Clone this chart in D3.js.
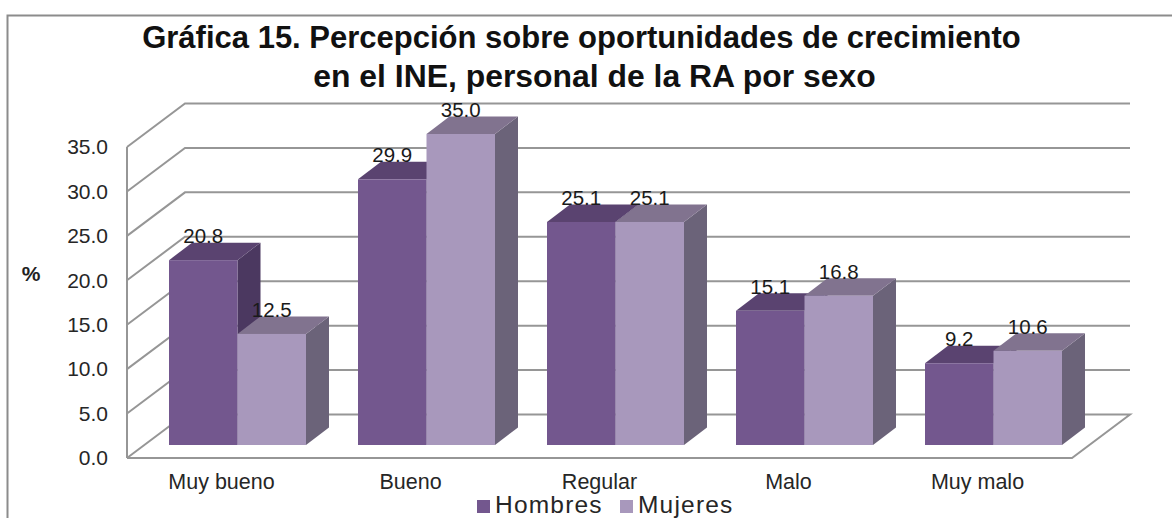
<!DOCTYPE html>
<html><head><meta charset="utf-8">
<script src="https://cdn.jsdelivr.net/npm/d3@7"></script>
<style>html,body{margin:0;padding:0;background:#fff;overflow:hidden}svg{display:block}text{font-family:"Liberation Sans",Arial,sans-serif}</style>
</head><body><svg id="c" width="1172" height="518"></svg>
<script>
const categories = ["Muy bueno","Bueno","Regular","Malo","Muy malo"];
const hombres = [20.8,29.9,25.1,15.1,9.2];
const mujeres = [12.5,35.0,25.1,16.8,10.6];
const seriesNames = ["Hombres","Mujeres"];
const yTicks = [0,5,10,15,20,25,30,35];
const titleLines = ["Gráfica 15. Percepción sobre oportunidades de crecimiento","en el INE, personal de la RA por sexo"];

const svg = d3.select("#c");
const plot = {left:127,right:1072,top:147,bottom:458};
const wall = {dx:58,dy:43.5};
const barDepth = {dx:23,dy:17.5,front:13};
const y = d3.scaleLinear().domain([0,35]).range([plot.bottom,plot.top]);
const x = d3.scaleBand().domain(categories).range([plot.left,plot.right]);
const barOffset = 42, barW = 68.5;
const gridC = "#969696";
const line = d3.line();

svg.append("path").attr("d",line([[7.5,518],[7.5,15.5],[1172,15.5]])).attr("fill","none").attr("stroke","#8c8c8c").attr("stroke-width",2);

yTicks.forEach(t=>{
  const p=[[plot.left,y(t)],[plot.left+wall.dx,y(t)-wall.dy],[plot.right+wall.dx,y(t)-wall.dy]];
  if(t===0) p.push([plot.right,y(t)],[plot.left,y(t)]);
  svg.append("path").attr("d",line(p)).attr("fill","none").attr("stroke",gridC).attr("stroke-width",2);
});
svg.append("line").attr("x1",plot.left).attr("x2",plot.left).attr("y1",y(35)).attr("y2",y(0)).attr("stroke",gridC).attr("stroke-width",2);

const ax = svg.append("g").attr("transform",`translate(108,0)`)
  .call(d3.axisLeft(y).tickValues(yTicks).tickSize(0).tickFormat(d3.format(".1f")));
ax.select(".domain").remove();
ax.selectAll("text").attr("font-size",21).attr("fill","#262626").attr("x",0).attr("text-anchor","end").attr("font-family","Liberation Sans");

const ax2 = svg.append("g").attr("transform",`translate(0,469)`)
  .call(d3.axisBottom(x).tickSize(0));
ax2.select(".domain").remove();
ax2.selectAll("text").attr("font-size",21.5).attr("fill","#262626").attr("y",0).attr("dy","0.95em").attr("font-family","Liberation Sans");

const barBase = plot.bottom-barDepth.front;
const hPerUnit = y(0)-y(1);
const styles = [{f:"#73578e",t:"#5a4370",s:"#4b3860"},{f:"#a898bc",t:"#81738f",s:"#6b6379"}];
const group = (i,s)=> x(categories[i]) + barOffset + s*barW;
const labels=[];
categories.forEach((c,i)=>{
  [hombres[i],mujeres[i]].forEach((v,s)=>{
    const c0=styles[s], X=group(i,s), top=barBase-v*hPerUnit, d=barDepth;
    const g=svg.append("g");
    g.append("path").attr("fill",c0.s).attr("d",line([[X+barW,top],[X+barW+d.dx,top-d.dy],[X+barW+d.dx,barBase-d.dy],[X+barW,barBase]])+"Z");
    g.append("path").attr("fill",c0.t).attr("d",line([[X,top],[X+d.dx,top-d.dy],[X+barW+d.dx,top-d.dy],[X+barW,top]])+"Z");
    g.append("rect").attr("x",X).attr("y",top).attr("width",barW).attr("height",barBase-top).attr("fill",c0.f);
    labels.push({v,X:X+barW/2,Y:top-17});
  });
});
labels.forEach(l=>{
  svg.append("text").attr("x",l.X).attr("y",l.Y).attr("text-anchor","middle").attr("font-size",20.5).attr("fill","#1a1a1a").text(l.v.toFixed(1));
});

const titleX=[581.5,594.5], titleY=[48,87], titleSize=[31,31.9];
titleLines.forEach((t,i)=>{
  svg.append("text").attr("x",titleX[i]).attr("y",titleY[i]).attr("text-anchor","middle").attr("font-size",titleSize[i]).attr("font-weight","bold").attr("fill","#111").text(t);
});

svg.append("text").attr("x",31).attr("y",281).attr("text-anchor","middle").attr("font-size",21).attr("font-weight","bold").attr("fill","#222").text("%");

const legendX=[477,620];
seriesNames.forEach((n,i)=>{
  svg.append("rect").attr("x",legendX[i]).attr("y",500).attr("width",13).attr("height",13).attr("fill",styles[i].f);
  svg.append("text").attr("x",legendX[i]+18).attr("y",512.5).attr("font-size",24.5).attr("letter-spacing",1.2).attr("fill","#262626").text(n);
});
</script></body></html>
